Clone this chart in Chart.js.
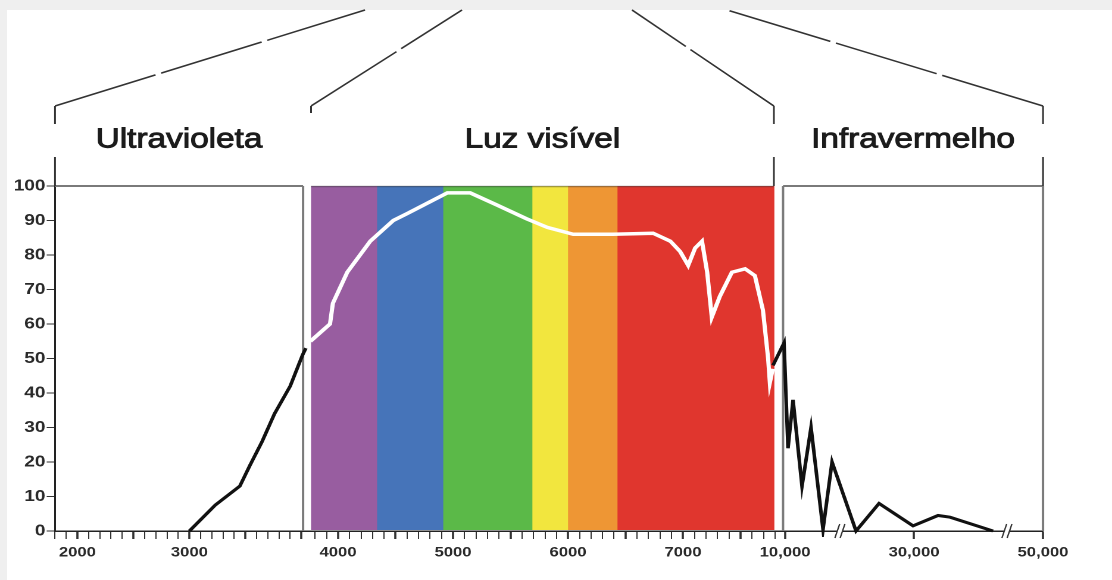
<!DOCTYPE html>
<html>
<head>
<meta charset="utf-8">
<script src="https://cdn.jsdelivr.net/npm/chart.js@4.4.0/dist/chart.umd.min.js"></script>
<style>
    html, body { margin: 0; padding: 0; background: #efefef; overflow: hidden; }
    #sheet { position: absolute; left: 7px; top: 10px; right: 0; bottom: 0; background: #fff; }
    /* the original drawing is stretched sideways, so the chart is drawn narrow and scaled */
    #wrap { position: absolute; left: 0; top: 0; width: 934px; height: 580px; transform: scaleX(1.19058); transform-origin: 0 0; }
</style>
</head>
<body>
<div id="sheet"></div>
<div id="wrap"><canvas id="spectrumChart" width="934" height="580"></canvas></div>
<script>
// ---- data: wavelength (Å) and relative intensity (%) of the curve, one list per region ----
const uvWavelengths = [3000, 3230, 3450, 3540, 3650, 3760, 3900, 4010, 4040];
const uvIntensity = [0, 7.5, 13, 19, 26, 34, 42, 51, 53];

const visWavelengths = [3760, 3930, 3955, 4080, 4280, 4480, 4600, 4775, 4950, 5150,
    5380, 5640, 5820, 6045, 6390, 6740, 6890, 6975, 7045, 7105,
    7165, 7210, 7250, 7320, 7425, 7540, 7625, 7695, 7740, 7755, 7780];
const visIntensity = [55, 60, 66, 75, 84, 90, 92, 95, 98, 98,
    94.5, 90.5, 88, 86, 86, 86.3, 84, 81, 77, 82,
    84, 75, 62, 68, 75, 76, 74, 64, 50, 43, 47];

const irWavelengths = [8120, 9830, 10450, 11230, 12620, 14020, 15880, 17280, 21000, 24570, 29840, 33720, 35580, 42250];
const irIntensity = [48, 54.5, 24, 38, 13, 30, 0.5, 20, 0, 8, 1.5, 4.5, 4, 0];

// colour bands of the visible light (edges in Å)
const bandEdges = [3765, 4340, 4915, 5690, 6000, 6430, 7790];
const bandColors = ['#985da0', '#4674b9', '#5bb948', '#f2e63e', '#ee9634', '#e0362e'];

// region titles
const regionNames = ['Ultravioleta', 'Luz visível', 'Infravermelho'];

// tick labels
const yTickValues = [0, 10, 20, 30, 40, 50, 60, 70, 80, 90, 100];
const uvTickLabels = [2000, 3000];
const visTickLabels = [4000, 5000, 6000, 7000];
const irTickLabels = [10000, 30000, 50000];
const irBreaks = [18500, 44400];

// wavelength ranges of the three panels (Å)
const uvRange = [1800, 4050];
const visRange = [3730, 7826];
const irRange = [8900, 50000];
const uvBoxEnd = 4015;
const irBoxStart = 9680;

// ---- layout (canvas units) ----
const STRETCH = 1112 / 934;
const BRACKET_TOPS = [365, 462, 632, 727].map(x => x / STRETCH);
const ELBOW_Y = 106;
const TITLE_Y = 140;
const FONT = '"Liberation Sans", Arial, sans-serif';

function toPoints(xs, ys) {
    return xs.map((x, i) => ({ x: x, y: ys[i] }));
}

function minorTicks(from, to, step) {
    const list = [];
    for (let v = from; v <= to; v += step) {
        list.push(v);
    }
    return list;
}

// one bottom axis per region, stacked side by side
function wavelengthAxis(range, weight, tickValues, labels, fmt) {
    return {
        type: 'linear',
        position: 'bottom',
        stack: 'wl',
        stackWeight: weight,
        min: range[0],
        max: range[1],
        afterFit: function (scale) { scale.height = 40; },
        afterBuildTicks: function (scale) {
            scale.ticks = tickValues.map(v => ({ value: v }));
        },
        grid: {
            drawOnChartArea: false,
            drawTicks: true,
            tickLength: 8,
            color: '#333',
            tickWidth: function (ctx) {
                return ctx.tick && ctx.tick.value % 500 === 0 ? 1.8 : 1;
            }
        },
        border: { color: '#222', width: 1.5 },
        ticks: {
            autoSkip: false,
            maxRotation: 0,
            minRotation: 0,
            padding: 5,
            color: '#2a2a2a',
            font: { family: FONT, size: 14, weight: 'bold' },
            callback: function (value) {
                return labels.includes(value) ? fmt(value) : '';
            }
        }
    };
}

function line(ctx, x0, y0, x1, y1) {
    ctx.beginPath();
    ctx.moveTo(x0, y0);
    ctx.lineTo(x1, y1);
    ctx.stroke();
}

// colour bands + grey boxes of the UV and IR panels
const panelPlugin = {
    id: 'panels',
    beforeDatasetsDraw(chart) {
        const { ctx, scales } = chart;
        const top = scales.y.getPixelForValue(100);
        const bottom = scales.y.getPixelForValue(0);

        for (let i = 0; i < bandColors.length; i++) {
            const x0 = scales.xvis.getPixelForValue(bandEdges[i]);
            const x1 = scales.xvis.getPixelForValue(bandEdges[i + 1]);
            ctx.fillStyle = bandColors[i];
            ctx.fillRect(x0, top, x1 - x0 + 0.4, bottom - top - 1);
        }

        ctx.save();
        const visLeft = scales.xvis.getPixelForValue(bandEdges[0]);
        const visRight = scales.xvis.getPixelForValue(bandEdges[bandEdges.length - 1]);
        ctx.strokeStyle = 'rgba(60,60,60,0.45)';
        ctx.lineWidth = 1.5;
        line(ctx, visLeft, top + 0.5, visRight, top + 0.5);

        ctx.strokeStyle = '#7a7a7a';
        ctx.lineWidth = 2;
        const uvLeft = scales.xuv.getPixelForValue(uvRange[0]);
        const uvRight = scales.xuv.getPixelForValue(uvBoxEnd);
        line(ctx, uvLeft, top, uvRight, top);
        line(ctx, uvRight, top, uvRight, bottom);

        const irLeft = scales.xir.getPixelForValue(irBoxStart);
        const irRight = scales.xir.getPixelForValue(irRange[1]);
        line(ctx, irLeft, top, irRight, top);
        line(ctx, irLeft, top, irLeft, bottom);
        line(ctx, irRight, top, irRight, bottom);
        ctx.restore();
    }
};

// brackets and titles on top, axis breaks
const bracketPlugin = {
    id: 'brackets',
    afterDraw(chart) {
        const { ctx, scales } = chart;
        const top = scales.y.getPixelForValue(100);
        const bottom = scales.y.getPixelForValue(0);
        const edges = [
            scales.xuv.getPixelForValue(uvRange[0]),
            scales.xvis.getPixelForValue(bandEdges[0]),
            scales.xvis.getPixelForValue(bandEdges[bandEdges.length - 1]),
            scales.xir.getPixelForValue(irRange[1])
        ];

        ctx.save();
        ctx.strokeStyle = '#333';
        ctx.lineWidth = 1.5;
        ctx.setLineDash([90, 5]);
        edges.forEach((x, i) => line(ctx, x, ELBOW_Y, BRACKET_TOPS[i], 10));
        ctx.setLineDash([]);
        [0, 2, 3].forEach(i => {
            line(ctx, edges[i], ELBOW_Y, edges[i], 124);
            line(ctx, edges[i], 157, edges[i], top);
        });
        line(ctx, edges[1], ELBOW_Y, edges[1], 113);

        // titles
        const uvRight = scales.xuv.getPixelForValue(uvBoxEnd);
        const irLeft = scales.xir.getPixelForValue(irBoxStart);
        const centers = [(edges[0] + uvRight) / 2, (edges[1] + edges[2]) / 2, (irLeft + edges[3]) / 2];
        ctx.font = '28px ' + FONT;
        ctx.fillStyle = '#1c1c1c';
        ctx.strokeStyle = '#1c1c1c';
        ctx.lineWidth = 0.9;
        ctx.textAlign = 'center';
        ctx.textBaseline = 'middle';
        regionNames.forEach((name, i) => {
            ctx.fillText(name, centers[i], TITLE_Y);
            ctx.strokeText(name, centers[i], TITLE_Y);
        });

        // "//" breaks on the IR axis
        irBreaks.forEach(w => {
            const x = scales.xir.getPixelForValue(w);
            ctx.fillStyle = '#fff';
            ctx.fillRect(x - 2.5, bottom - 2, 5, 4);
            ctx.strokeStyle = '#333';
            ctx.lineWidth = 1.2;
            [-2.2, 2.2].forEach(dx => line(ctx, x + dx - 2, bottom + 7, x + dx + 2, bottom - 7));
        });
        ctx.restore();
    }
};

const chartCtx = document.getElementById('spectrumChart');

const spectrumChart = new Chart(chartCtx, {
    type: 'line',
    data: {
        datasets: [
            {
                data: toPoints(visWavelengths, visIntensity),
                xAxisID: 'xvis',
                borderColor: '#ffffff',
                borderWidth: 3.5,
                pointRadius: 0,
                tension: 0,
                clip: 6
            },
            {
                data: toPoints(uvWavelengths, uvIntensity),
                xAxisID: 'xuv',
                borderColor: '#111111',
                borderWidth: 3,
                pointRadius: 0,
                tension: 0,
                clip: 6
            },
            {
                data: toPoints(irWavelengths, irIntensity),
                xAxisID: 'xir',
                borderColor: '#111111',
                borderWidth: 3,
                pointRadius: 0,
                tension: 0,
                clip: 6
            }
        ]
    },
    options: {
        responsive: false,
        animation: false,
        devicePixelRatio: 2,
        layout: {
            padding: { left: 55 / STRETCH - 40, right: 934 - 1043 / STRETCH, top: 186, bottom: 9 }
        },
        plugins: {
            legend: { display: false },
            tooltip: { enabled: false }
        },
        scales: {
            xuv: wavelengthAxis(uvRange, 252, minorTicks(1800, 4000, 100), uvTickLabels, v => String(v)),
            xvis: wavelengthAxis(visRange, 471, minorTicks(3800, 7800, 100), visTickLabels, v => String(v)),
            xir: wavelengthAxis(irRange, 265, irTickLabels, irTickLabels, v => v.toLocaleString('en-US')),
            y: {
                type: 'linear',
                position: 'left',
                min: 0,
                max: 100,
                afterFit: function (scale) { scale.width = 40; },
                afterBuildTicks: function (scale) {
                    scale.ticks = yTickValues.map(v => ({ value: v }));
                },
                grid: { drawOnChartArea: false, tickLength: 7, color: '#333' },
                border: { color: '#222', width: 1.5 },
                ticks: {
                    padding: 1,
                    color: '#2a2a2a',
                    font: { family: FONT, size: 16, weight: 'bold' }
                }
            }
        }
    },
    plugins: [panelPlugin, bracketPlugin]
});
</script>
</body>
</html>
